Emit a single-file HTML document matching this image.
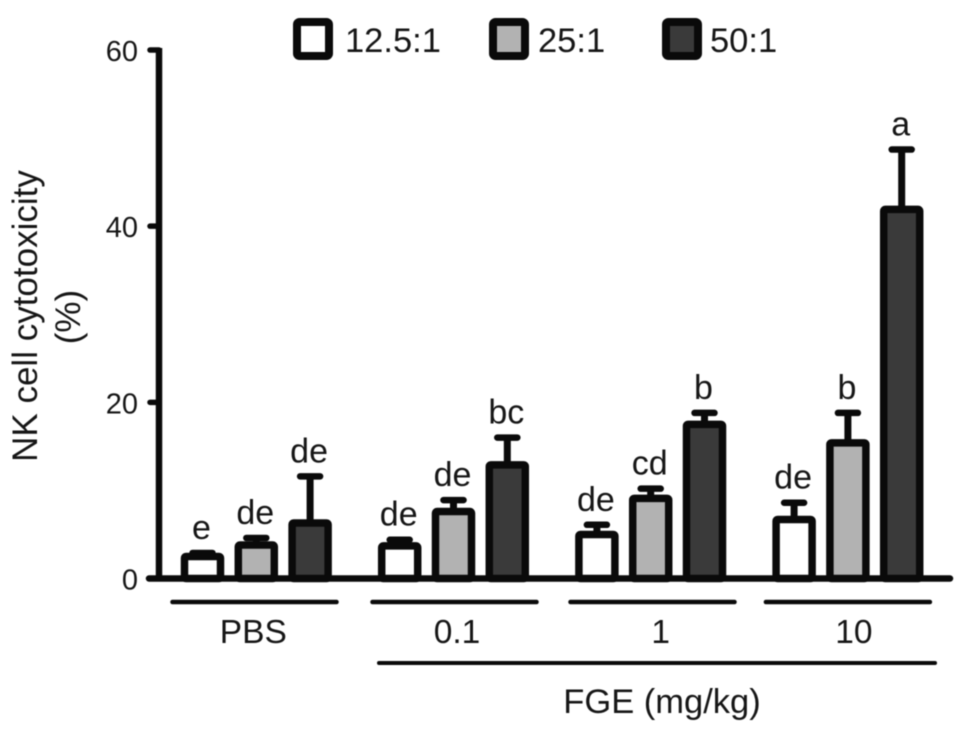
<!DOCTYPE html>
<html>
<head>
<meta charset="utf-8">
<style>
html,body{margin:0;padding:0;background:#fff;width:969px;height:735px;overflow:hidden}
svg{display:block;filter:blur(0.6px)}
text{font-family:"Liberation Sans",sans-serif;fill:#161616}
</style>
</head>
<body>
<svg id="chart" width="969" height="735" viewBox="0 0 969 735" xmlns="http://www.w3.org/2000/svg">
  <g>
    <rect x="297" y="22" width="32" height="34" rx="2.5" fill="#fff" stroke="#0a0a0a" stroke-width="8"/>
    <text x="345" y="52" font-size="34.5">12.5:1</text>
    <rect x="493" y="22" width="32" height="34" rx="2.5" fill="#b2b2b2" stroke="#0a0a0a" stroke-width="8"/>
    <text x="538" y="52" font-size="34.5">25:1</text>
    <rect x="666" y="22" width="32" height="34" rx="2.5" fill="#3a3a3a" stroke="#0a0a0a" stroke-width="8"/>
    <text x="710" y="52" font-size="34.5">50:1</text>
  </g>
  <g>
    <text transform="translate(37,316) rotate(-90)" text-anchor="middle" font-size="35">NK cell cytotoxicity</text>
    <text transform="translate(80,317) rotate(-90)" text-anchor="middle" font-size="35">(%)</text>
  </g>
  <line x1="379" y1="663" x2="935" y2="663" stroke="#0a0a0a" stroke-width="4" stroke-linecap="round"/>
  <text x="662" y="713" text-anchor="middle" font-size="34.5">FGE (mg/kg)</text>
  <g id="marks"></g>
</svg>
<script>
var groups = ['PBS', '0.1', '1', '10'];
var series = ['12.5:1', '25:1', '50:1'];
var means = [
  [2.5, 3.8, 6.3],
  [3.7, 7.6, 12.9],
  [5.0, 9.1, 17.5],
  [6.7, 15.4, 41.9]
];
var errorTops = [
  [2.9, 4.6, 11.6],
  [4.4, 8.9, 16.0],
  [6.1, 10.2, 18.8],
  [8.6, 18.8, 48.7]
];
var sigLabels = [
  ['e', 'de', 'de'],
  ['de', 'de', 'bc'],
  ['de', 'cd', 'b'],
  ['de', 'b', 'a']
];
var yTicks = [0, 20, 40, 60];
var seriesFills = ['#ffffff', '#b2b2b2', '#3a3a3a'];

var NS = 'http://www.w3.org/2000/svg';
var root = document.getElementById('marks');
function yScale(v) { return 578.5 - v * (528.5 / 60); }
function groupLeft(g) { return 202.5 + g * 197.2; }
function xScale(g, s) { return groupLeft(g) + s * 53.8; }
function bracketCenter(g) { return xScale(g, 1) + [-1.8, 1, 1.8, 0][g]; }
function groupLabelX(g) { return xScale(g, 1) + [-3, 3.5, 10, 6][g]; }
function make(tag, attrs, text) {
  var el = document.createElementNS(NS, tag);
  for (var k in attrs) { el.setAttribute(k, attrs[k]); }
  if (text !== undefined) { el.textContent = text; }
  root.appendChild(el);
  return el;
}
var INK = '#0a0a0a';
var el;

groups.forEach(function (group, g) {
  series.forEach(function (name, s) {
    var cx = xScale(g, s);
    var top = yScale(means[g][s]);
    var errY = yScale(errorTops[g][s]);

    el = make('line', { x1: cx, x2: cx, y1: errY, y2: top, stroke: INK, 'stroke-width': 7 });
    
    

    el = make('line', { x1: cx - 10, x2: cx + 10, y1: errY, y2: errY, stroke: INK, 'stroke-width': 6.5, 'stroke-linecap': 'round' });
    
    

    el = make('rect', { x: cx - 18, y: top, width: 36, height: yScale(0) - top, rx: 1.5, fill: seriesFills[s], stroke: INK, 'stroke-width': 7.5 });
    
    

    el = make('text', { x: cx - 1, y: errY - 14, 'text-anchor': 'middle', 'font-size': 34 }, sigLabels[g][s]);
    
    
  });

  el = make('line', { x1: bracketCenter(g) - 82, x2: bracketCenter(g) + 82, y1: 602, y2: 602, stroke: INK, 'stroke-width': 4.5, 'stroke-linecap': 'round' });
  
  

  el = make('text', { x: groupLabelX(g), y: 643, 'text-anchor': 'middle', 'font-size': 33.5 }, group);
  
  
});

el = make('line', { x1: 159, x2: 159, y1: yScale(60) - 2, y2: yScale(0), stroke: INK, 'stroke-width': 6.5 });



el = make('line', { x1: 149, x2: 950, y1: yScale(0), y2: yScale(0), stroke: INK, 'stroke-width': 6.5, 'stroke-linecap': 'round' });



yTicks.forEach(function (t) {
  el = make('line', { x1: 150, x2: 159, y1: yScale(t), y2: yScale(t), stroke: INK, 'stroke-width': 5.5, 'stroke-linecap': 'round' });
  
  

  el = make('text', { x: 138, y: yScale(t) + 11, 'text-anchor': 'end', 'font-size': 29 }, String(t));
  
  
});
</script>
</body>
</html>
